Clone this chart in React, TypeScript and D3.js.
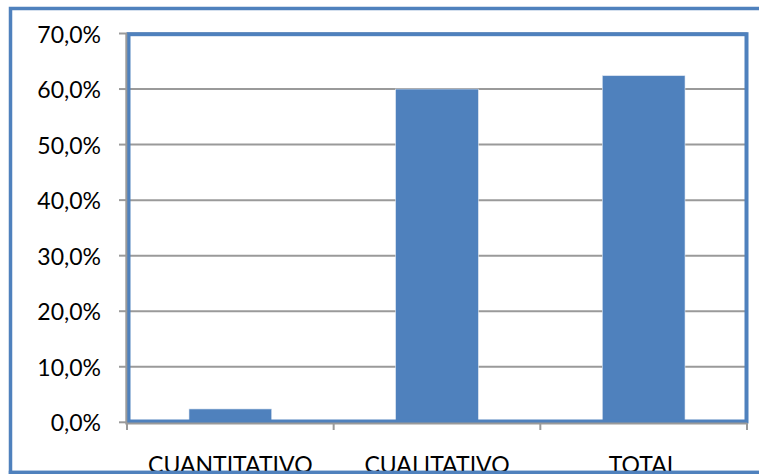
import React from "react";
import * as d3 from "d3";

const categories: string[] = ["CUANTITATIVO", "CUALITATIVO", "TOTAL"];
const values: number[] = [2.4, 60.0, 62.4];
const yTicks: number[] = [0, 10, 20, 30, 40, 50, 60, 70];

const W = 759;
const H = 474;
const BLUE = "#4F81BD";
const GRID = "#9a9a9a";
const FONT = "Lato, 'Open Sans', sans-serif";

export default function App() {
  const left = 127;
  const right = 747;
  const y = d3.scaleLinear().domain([0, 70]).range([422.3, 33.5]);
  const x = d3
    .scaleBand<string>()
    .domain(categories)
    .range([left, right])
    .paddingInner(0.6)
    .paddingOuter(0.3);
  const step = (right - left) / categories.length;
  const fmt = (v: number) => v.toFixed(1).replace(".", ",") + "%";

  return (
    <svg
      width={W}
      height={H}
      style={{ position: "absolute", left: 0, top: 0, background: "#fff" }}
      fontFamily={FONT}
    >
      {/* outer chart border */}
      <rect x={10.5} y={8.5} width={780} height={464} fill="none" stroke={BLUE} strokeWidth={3.5} />

      {/* gridlines */}
      {yTicks.map((t) => (
        <line key={"g" + t} x1={left} x2={right} y1={y(t)} y2={y(t)} stroke={GRID} strokeWidth={2} />
      ))}

      {/* bars */}
      {categories.map((c, i) => (
        <rect
          key={c}
          x={x(c)!}
          y={y(values[i])}
          width={x.bandwidth()}
          height={y(0) - y(values[i])}
          fill={BLUE}
          stroke="#dbe5f1"
          strokeWidth={0.6}
        />
      ))}

      {/* plot area border */}
      <rect x={128.5} y={34.2} width={618} height={387.3} fill="none" stroke={BLUE} strokeWidth={4} />

      {/* y axis */}
      <line x1={126.3} x2={126.3} y1={y(70)} y2={424.5} stroke={GRID} strokeWidth={2} />
      {yTicks.map((t) => (
        <g key={"t" + t}>
          <line x1={119} x2={127} y1={y(t)} y2={y(t)} stroke={GRID} strokeWidth={2} />
          <text x={101} y={y(t)} textAnchor="end" dominantBaseline="central" fontSize={23} fill="#000">
            {fmt(t)}
          </text>
        </g>
      ))}

      {/* x axis */}
      <line x1={left - 1} x2={right} y1={423.6} y2={423.6} stroke={GRID} strokeWidth={2} />
      {d3.range(categories.length + 1).map((i) => (
        <line
          key={"xt" + i}
          x1={left + i * step}
          x2={left + i * step}
          y1={423}
          y2={430}
          stroke={GRID}
          strokeWidth={2}
        />
      ))}
      {categories.map((c) => (
        <text key={"l" + c} x={x(c)! + x.bandwidth() / 2} y={472.5} textAnchor="middle" fontSize={23} fill="#000">
          {c}
        </text>
      ))}

      {/* bottom border drawn over labels */}
      <line x1={8.75} x2={W} y1={472.5} y2={472.5} stroke={BLUE} strokeWidth={3.5} />
    </svg>
  );
}
